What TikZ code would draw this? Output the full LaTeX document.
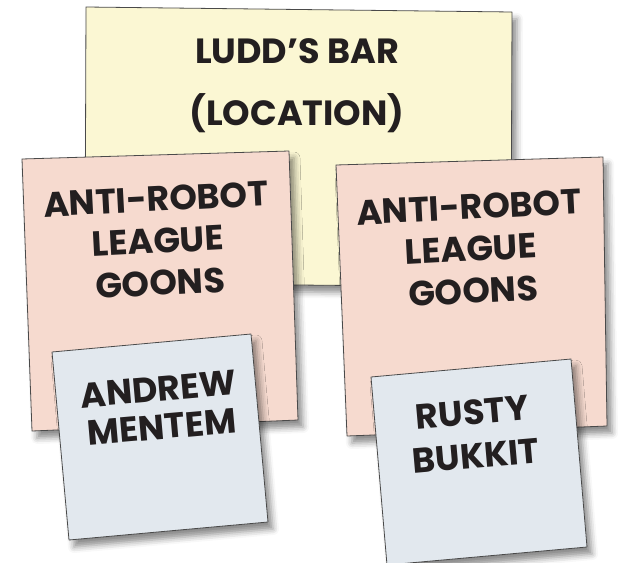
\documentclass[tikz,border=0pt]{standalone}
\usepackage{fontspec}
\setmainfont{Poppins}
\usetikzlibrary{shadows.blur}
\definecolor{yel}{HTML}{FBF7D3}
\definecolor{pnk}{HTML}{F6DACF}
\definecolor{blu}{HTML}{E2E8EE}
\definecolor{ink}{HTML}{231F20}
\definecolor{edge}{HTML}{4A4A4A}
\tikzset{
  note/.style={draw=edge, line width=0.8pt, line join=round,
    blur shadow={shadow xshift=5pt, shadow yshift=-7pt, shadow blur radius=6pt, shadow opacity=45}},
  lbl/.style={text=ink, align=center, inner sep=0pt}
}
\newcommand{\handsize}[1]{\fontsize{35}{#1}\selectfont\bfseries}
\begin{document}
\begin{tikzpicture}[x=1pt,y=-1pt]
\useasboundingbox (0,0) rectangle (618,562);
% yellow note
\filldraw[note, fill=yel] (86,7) -- (512,12) -- (511,287) -- (85,283) -- cycle;
\node[lbl, font=\handsize{62}] (y) at (297,86) {LUDD’S BAR\\(LOCATION)};
% pink notes
\filldraw[note, fill=pnk] (22,159) -- (289,151) -- (298,420) -- (32,431) -- cycle;
\node[lbl, font=\handsize{42}, rotate=3] (p) at (158,241) {ANTI-ROBOT\\LEAGUE\\GOONS};
\filldraw[note, fill=pnk] (336,165) -- (603,157) -- (607,426) -- (347,436) -- cycle;
\node[lbl, font=\handsize{42}, rotate=3] (q) at (471,249) {ANTI-ROBOT\\LEAGUE\\GOONS};
% blue notes
\filldraw[note, fill=blu] (52,352) -- (251,334) -- (268,522) -- (69,540) -- cycle;
\node[lbl, font=\handsize{38}, rotate=5] (b) at (160,408) {ANDREW\\MENTEM};
\filldraw[note, fill=blu] (371,377) -- (571,359) -- (587,547) -- (387,565) -- cycle;
\node[lbl, font=\handsize{44}, rotate=5] (c) at (474,434) {RUSTY\\BUKKIT};
\end{tikzpicture}
\end{document}
